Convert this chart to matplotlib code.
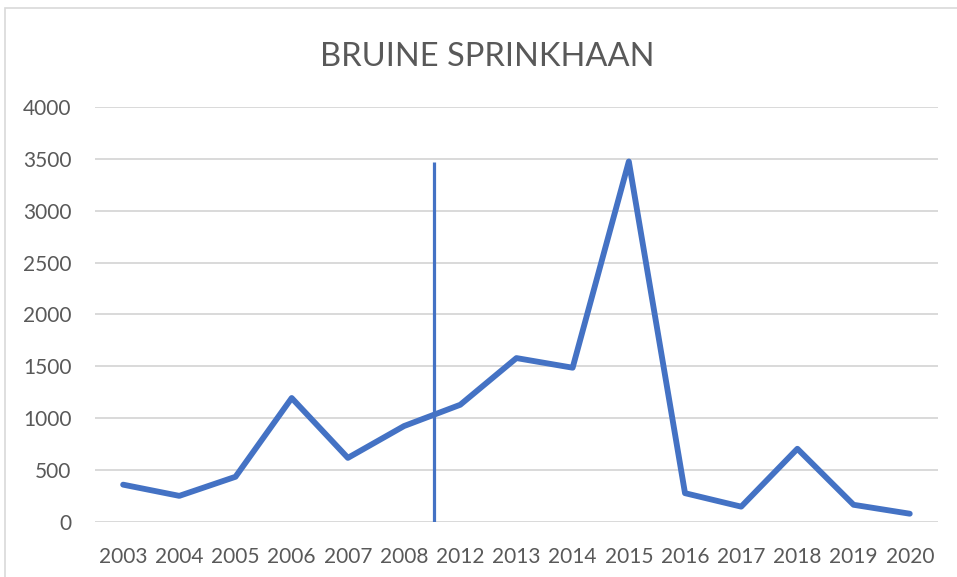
import matplotlib.pyplot as plt
from matplotlib.patches import Rectangle

years = ["2003", "2004", "2005", "2006", "2007", "2008", "2012", "2013",
         "2014", "2015", "2016", "2017", "2018", "2019", "2020"]
counts = [360, 252, 436, 1195, 618, 925, 1130, 1580,
          1487, 3475, 278, 148, 706, 166, 80]
yticks = [0, 500, 1000, 1500, 2000, 2500, 3000, 3500, 4000]
break_pos = 5.53
break_top = 3465

line_color = "#4472C4"
text_color = "#595959"
grid_color = "#D9D9D9"

plt.rcParams["font.family"] = ["Lato", "DejaVu Sans"]

fig = plt.figure(figsize=(9.57, 5.77), dpi=100)
ax = fig.add_axes([0.0993, 0.0953, 0.8807, 0.7193])

x = list(range(len(years)))
ax.plot(x, counts, color=line_color, linewidth=4.2,
        solid_joinstyle="round", solid_capstyle="round", zorder=3)
ax.plot([break_pos, break_pos], [0, break_top], color=line_color,
        linewidth=2.3, solid_capstyle="butt", zorder=3)

ax.set_xlim(-0.5, len(years) - 0.5)
ax.set_ylim(0, 4000)
ax.set_xticks(x)
ax.set_xticklabels(years)
ax.set_yticks(yticks)
ax.set_yticklabels([str(v) for v in yticks])
ax.tick_params(axis="both", length=0, labelsize=15, colors=text_color)
ax.tick_params(axis="x", pad=18)
ax.tick_params(axis="y", pad=17)
ax.grid(axis="y", color=grid_color, linewidth=1.4)
ax.set_axisbelow(True)
for s in ax.spines.values():
    s.set_visible(False)

fig.text(0.509, 0.901, "BRUINE SPRINKHAAN", ha="center", va="center",
         fontsize=23.5, color=text_color)

fig.patches.append(Rectangle((0.005, -0.05), 1.2, 1.036, transform=fig.transFigure,
                             fill=False, edgecolor="#D9D9D9", linewidth=1.2))

fig.savefig("out.png", dpi=100)
plt.close(fig)
